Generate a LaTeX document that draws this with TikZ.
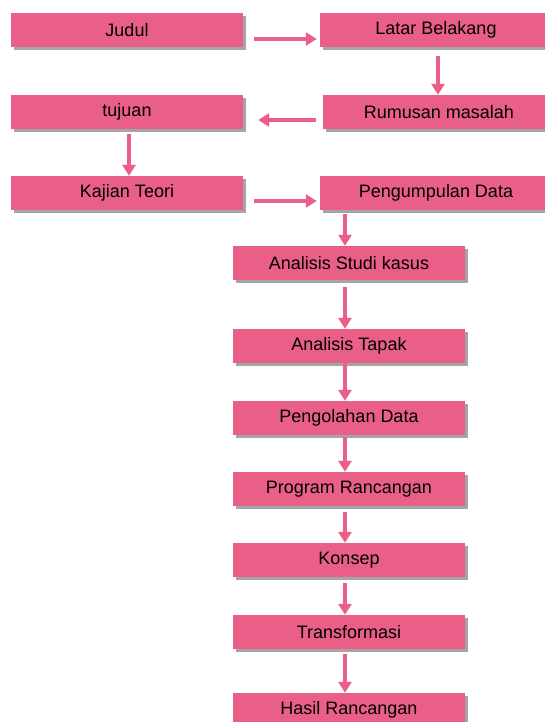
\documentclass[tikz,border=0pt]{standalone}
\usepackage{fontspec}
\setmainfont{Liberation Sans}
\usetikzlibrary{
	arrows.meta,
	shadows
}
\definecolor{boxpink}{RGB}{234,95,136}
\definecolor{boxshade}{RGB}{165,165,165}
\tikzset{
	stepbox/.style={rectangle, fill=boxpink, minimum width=232pt, minimum height=34pt, inner sep=0pt,
		font=\fontsize{18pt}{20pt}\selectfont, text=black,
		drop shadow={shadow xshift=3pt, shadow yshift=-3pt, fill=boxshade, opacity=1}},
	flow/.style={draw=boxpink, line width=3.6pt, -{Triangle[width=13pt,length=11pt]}}
}
\begin{document}
\begin{tikzpicture}[x=1pt,y=-1pt]
    % Frame
    \useasboundingbox (0,0) rectangle (545,722);
    \clip (0,0) rectangle (545,722);
    % Boxes, left and right
    \node[stepbox] (judul)       at (127,30)  {Judul};
    \node[stepbox] (latar)       at (436,30)  {Latar Belakang};
    \node[stepbox] (tujuan)      at (127,112) {tujuan};
    \node[stepbox] (rumusan)     at (439,112) {Rumusan masalah};
    \node[stepbox] (kajian)      at (127,193) {Kajian Teori};
    \node[stepbox] (pengumpulan) at (436,193) {Pengumpulan Data};
    % Boxes, middle column
    \node[stepbox] (studi)        at (349,263) {Analisis Studi kasus};
    \node[stepbox] (tapak)        at (349,346) {Analisis Tapak};
    \node[stepbox] (olah)         at (349,418) {Pengolahan Data};
    \node[stepbox] (program)      at (349,489) {Program Rancangan};
    \node[stepbox] (konsep)       at (349,560) {Konsep};
    \node[stepbox] (transformasi) at (349,632) {Transformasi};
    \node[stepbox] (hasil)        at (349,710) {Hasil Rancangan};
    % Arrows between the top boxes
    \draw[flow] ([xshift=11pt,yshift=-9pt]judul.east) -- ([xshift=-3pt,yshift=-9pt]latar.west);
    \draw[flow] ([xshift=2pt,yshift=-9pt]latar.south) -- ([xshift=2pt]latar.south |- rumusan.north);
    \draw[flow] ([xshift=-7pt,yshift=-8pt]rumusan.west) -- ([xshift=15pt,yshift=-8pt]tujuan.east);
    \draw[flow] ([xshift=2pt,yshift=-5pt]tujuan.south) -- ([xshift=2pt]tujuan.south |- kajian.north);
    \draw[flow] ([xshift=11pt,yshift=-8pt]kajian.east) -- ([xshift=-3pt,yshift=-8pt]pengumpulan.west);
    % Arrows down the middle
    \draw[flow] ([xshift=-4pt,yshift=-4pt]studi.north |- pengumpulan.south) -- ([xshift=-4pt]studi.north);
    \draw[flow] ([xshift=-4pt,yshift=-7pt]studi.south) -- ([xshift=-4pt]tapak.north);
    \draw[flow] ([xshift=-4pt]tapak.south) -- ([xshift=-4pt]olah.north);
    \draw[flow] ([xshift=-4pt,yshift=-2pt]olah.south) -- ([xshift=-4pt]program.north);
    \draw[flow] ([xshift=-4pt,yshift=-6pt]program.south) -- ([xshift=-4pt]konsep.north);
    \draw[flow] ([xshift=-4pt,yshift=-6pt]konsep.south) -- ([xshift=-4pt]transformasi.north);
    \draw[flow] ([xshift=-4pt,yshift=-5pt]transformasi.south) -- ([xshift=-4pt]hasil.north);
\end{tikzpicture}
\end{document}
